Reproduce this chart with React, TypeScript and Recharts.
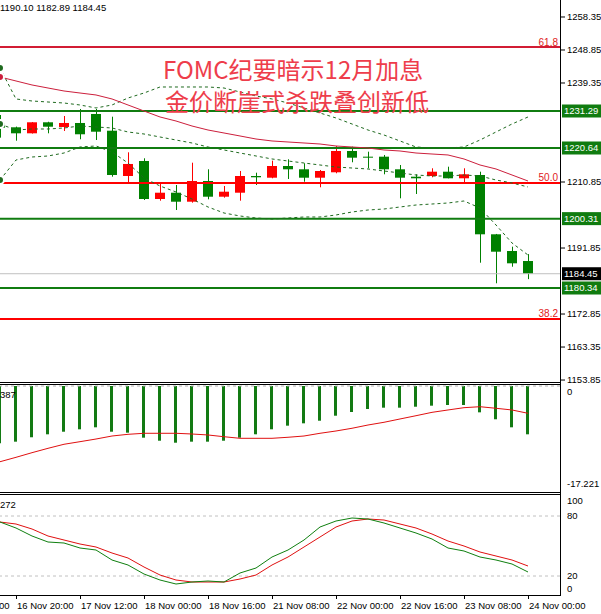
import React from 'react';
import { ComposedChart, Bar, Line, XAxis, YAxis, ReferenceLine } from 'recharts';

const FONT = "'Liberation Sans', Arial, sans-serif";
const CJK = "'Noto Sans CJK SC', sans-serif";
const RED = '#ff0000';
const GREEN = '#008000';
const LEVEL_GREEN = '#107c10';
const BAND = '#1f6a1f';

// one candle every 4 hours, candle i is drawn at x = 16 * i
const opens = [1227.75, 1226.6, 1224.87, 1228.04, 1226.69, 1227.84, 1230.43, 1225.62, 1212.58, 1216.9, 1205.96, 1207.77, 1205.18, 1211.14, 1206.62, 1207.77, 1212.58, 1212.09, 1215.46, 1214.51, 1212.09, 1213.65, 1219.78, 1218.14, 1218.14, 1214.51, 1212.38, 1212.58, 1213.82, 1211.92, 1212.87, 1195.8, 1190.99, 1188.11];
const highs = [1230.14, 1226.8, 1228.1, 1228.2, 1229.85, 1231.87, 1231.87, 1229.65, 1219.4, 1217.68, 1210.48, 1209.99, 1216.41, 1214.51, 1209.7, 1214.02, 1213.53, 1216.99, 1217.39, 1216.24, 1214.31, 1221.22, 1221.02, 1219.58, 1218.63, 1215.75, 1213.07, 1214.8, 1215.26, 1214.8, 1213.82, 1195.9, 1192.23, 1190.1];
const lows = [1223.61, 1222.74, 1224.8, 1224.87, 1225.54, 1223.15, 1222.94, 1212.38, 1210.28, 1205.67, 1205.47, 1202.79, 1204.9, 1205.87, 1206.34, 1205.47, 1209.99, 1211.92, 1211.72, 1210.94, 1209.33, 1213.36, 1216.53, 1214.8, 1213.07, 1206.16, 1207.4, 1212.21, 1211.9, 1210.28, 1187.62, 1181.7, 1186.47, 1182.89];
const closes = [1226.49, 1224.87, 1228.04, 1226.77, 1227.84, 1224.59, 1225.33, 1212.87, 1216.04, 1205.96, 1207.77, 1205.18, 1211.14, 1206.62, 1208.06, 1212.58, 1212.21, 1215.46, 1214.51, 1212.09, 1214.02, 1219.78, 1217.85, 1217.85, 1214.51, 1212.09, 1211.92, 1213.82, 1211.92, 1213.07, 1195.8, 1190.79, 1187.45, 1184.45];

const maLine = [1241.08, 1239.93, 1238.78, 1237.91, 1237.05, 1236.47, 1235.9, 1234.75, 1233.02, 1231.29, 1229.57, 1228.41, 1226.97, 1225.82, 1224.96, 1224.1, 1223.23, 1222.66, 1222.37, 1222.08, 1221.79, 1221.22, 1220.93, 1220.64, 1220.07, 1219.78, 1219.2, 1218.91, 1218.63, 1217.48, 1215.75, 1214.6, 1212.87, 1211.14];
const bandUpper = [1243.67, 1234.75, 1234.17, 1233.88, 1233.59, 1233.02, 1232.16, 1233.02, 1235.03, 1236.47, 1238.2, 1238.2, 1238.2, 1238.2, 1237.91, 1236.76, 1235.61, 1234.75, 1233.59, 1232.16, 1230.72, 1229.28, 1227.55, 1225.82, 1224.38, 1222.66, 1220.93, 1220.64, 1220.64, 1220.93, 1222.94, 1225.25, 1227.55, 1229.57];
const bandMid = [1227.55, 1225.82, 1226.11, 1226.11, 1226.4, 1226.97, 1226.69, 1226.4, 1225.25, 1224.67, 1223.81, 1222.94, 1222.08, 1220.93, 1220.07, 1219.2, 1218.34, 1217.48, 1216.9, 1216.32, 1215.75, 1215.17, 1214.88, 1214.6, 1214.02, 1213.45, 1212.87, 1212.58, 1212.58, 1212.87, 1212.58, 1211.43, 1210.57, 1209.42];
const bandLower = [1211.43, 1217.19, 1218.05, 1218.34, 1219.2, 1220.93, 1221.22, 1219.49, 1216.32, 1212.01, 1209.7, 1207.98, 1205.96, 1203.66, 1201.93, 1201.07, 1200.49, 1200.2, 1200.49, 1200.78, 1200.78, 1201.36, 1202.22, 1202.79, 1203.08, 1203.66, 1204.23, 1204.52, 1204.81, 1205.39, 1203.37, 1198.48, 1193.3, 1189.84];

const macdHist = [-9.49, -9.22, -8.49, -8.0, -7.57, -7.17, -6.84, -7.57, -7.73, -8.56, -9.06, -9.39, -9.22, -9.22, -9.06, -8.56, -8.0, -7.17, -6.57, -6.18, -5.75, -4.92, -4.31, -3.81, -3.59, -3.59, -3.43, -3.26, -3.15, -3.15, -4.36, -5.51, -6.84, -8.0];
const macdSignal = [-12.54, -11.81, -11.04, -10.32, -9.65, -9.22, -8.78, -8.28, -8.0, -7.83, -7.83, -7.83, -7.95, -8.11, -8.4, -8.66, -8.66, -8.66, -8.49, -8.28, -7.83, -7.45, -7.0, -6.46, -6.01, -5.46, -4.92, -4.36, -3.97, -3.59, -3.43, -3.69, -3.97, -4.52];

const stochK = [74, 68, 60, 54, 53, 48, 46, 36, 31, 22, 16, 12, 14, 15, 14, 23, 28, 39, 46, 56, 69, 75, 78, 77, 73, 68, 63, 57, 48, 45, 39, 36, 32, 24];
const stochD = [74, 72, 67, 60, 56, 52, 49, 43, 38, 29, 21, 16, 14, 14, 14, 17, 21, 31, 39, 49, 59, 69, 75, 77, 76, 72, 68, 62, 55, 50, 44, 40, 36, 30];

const priceTicks = [1258.35, 1248.85, 1239.35, 1210.85, 1191.85, 1172.85, 1163.35, 1153.85];
const greenLevels = [1231.29, 1220.64, 1200.31, 1180.34];
const fibLevels = [1249.71, 1210.57, 1171.42];
const fibNames = ['61.8', '50.0', '38.2'];
const lastPrice = 1184.45;
const macdTicks = [-17.221, 0];
const stochTicks = [20, 80, 100];

const timeIdx = [-3, 1, 5, 9, 13, 17, 21, 25, 29, 33];
const timeText = ['16 Nov 04:00', '16 Nov 20:00', '17 Nov 12:00', '18 Nov 00:00', '18 Nov 16:00', '21 Nov 08:00', '22 Nov 00:00', '22 Nov 16:00', '23 Nov 08:00', '24 Nov 00:00'];

const rows = opens.map((o, i) => ({
  i,
  o,
  h: highs[i],
  l: lows[i],
  c: closes[i],
  range: [lows[i], highs[i]],
  ma: maLine[i],
  up: bandUpper[i],
  mid: bandMid[i],
  lo: bandLower[i],
  macd: macdHist[i],
  sig: macdSignal[i],
  k: stochK[i],
  d: stochD[i],
}));

const Candle = (props: any) => {
  const { x, y, width, height, payload } = props;
  const { o, h, l, c } = payload;
  const k = height / (h - l);
  const top = y + (h - Math.max(o, c)) * k;
  const bodyH = Math.max(Math.abs(o - c) * k, 1);
  const color = c > o ? RED : GREEN;
  const cx = Math.round(x + width / 2) + 0.5;
  return (
    <g>
      <line x1={cx} x2={cx} y1={y} y2={y + height} stroke={color} strokeWidth={1} />
      <rect x={Math.round(x)} y={top} width={width} height={bodyH} fill={color} />
    </g>
  );
};

const priceBox = (value: number, bg: string) => (props: any) => {
  const vb = props.viewBox;
  const x = vb.x + vb.width + 2;
  return (
    <g>
      <rect x={x} y={vb.y - 6.5} width={39} height={13} fill={bg} />
      <text x={x + 2} y={vb.y} dy="0.355em" fill="#fff" fontSize={9.5} fontFamily={FONT}>
        {value.toFixed(2)}
      </text>
    </g>
  );
};

const fibTag = (name: string) => (props: any) => {
  const vb = props.viewBox;
  return (
    <text x={vb.x + vb.width - 2} y={vb.y - 1.5} textAnchor="end" fill="#e02020" fontSize={10} fontFamily={FONT}>
      {name}
    </text>
  );
};

// sub-window labels are nudged inside the frame like MT4 does
const sideTick = (shift: Record<string, number>) => (props: any) => {
  const { x, y, payload } = props;
  const label = String(payload.value);
  const dy = shift[label] || 0;
  return (
    <text x={x} y={y + dy} dy="0.355em" fill="#000" fontSize={9.5} fontFamily={FONT}>
      {label}
    </text>
  );
};

const TimeTick = (props: any) => {
  const { x, y, payload } = props;
  const n = timeIdx.indexOf(payload.value);
  return (
    <g>
      <line x1={x + 0.5} x2={x + 0.5} y1={y} y2={y + 3} stroke="#000" />
      <text x={x + 1} y={y + 13} fill="#000" fontSize={9.5} fontFamily={FONT}>
        {timeText[n]}
      </text>
    </g>
  );
};

const hLine = (top: number) => (
  <div style={{ position: 'absolute', left: 0, top, width: 561, height: 1, background: '#000' }} />
);

export default function App() {
  return (
    <div style={{ position: 'absolute', left: 0, top: 0, width: 601, height: 614, background: '#fff', overflow: 'hidden' }}>
      <div style={{ position: 'absolute', left: 0, top: 0 }}>
        <ComposedChart width={601} height={384} data={rows} margin={{ top: 0, right: 0, left: 0, bottom: 0 }}>
          <XAxis dataKey="i" type="number" domain={[0, 35]} hide allowDataOverflow />
          <YAxis
            orientation="right"
            width={41}
            domain={[1152.71, 1263.24]}
            ticks={priceTicks}
            interval={0}
            allowDataOverflow
            axisLine={false}
            tickLine={{ stroke: '#000' }}
            tickSize={5}
            tickMargin={2}
            tick={{ fill: '#000', fontSize: 9.5, fontFamily: FONT }}
            tickFormatter={(v: number) => v.toFixed(2)}
          />
          {fibLevels.map((v, n) => (
            <ReferenceLine key={'f' + v} y={v} stroke={n === 0 ? '#d21c34' : RED} strokeWidth={2} label={fibTag(fibNames[n])} />
          ))}
          {greenLevels.map((v) => (
            <ReferenceLine key={'g' + v} y={v} stroke={LEVEL_GREEN} strokeWidth={2} label={priceBox(v, LEVEL_GREEN)} />
          ))}
          <ReferenceLine y={lastPrice} stroke="#c0c0c0" strokeWidth={1} label={priceBox(lastPrice, '#000')} />
          <Line dataKey="up" stroke={BAND} strokeWidth={1} strokeDasharray="3 3" dot={false} isAnimationActive={false} />
          <Line dataKey="mid" stroke={BAND} strokeWidth={1} strokeDasharray="3 3" dot={false} isAnimationActive={false} />
          <Line dataKey="lo" stroke={BAND} strokeWidth={1} strokeDasharray="3 3" dot={false} isAnimationActive={false} />
          <Line dataKey="ma" stroke="#cc1f3c" strokeWidth={1} dot={false} isAnimationActive={false} />
          <Bar dataKey="range" barSize={10} shape={Candle} isAnimationActive={false} />
        </ComposedChart>
      </div>

      <div style={{ position: 'absolute', left: 0, top: 384 }}>
        <ComposedChart width={601} height={110} data={rows} margin={{ top: 2, right: 0, left: 0, bottom: 4 }}>
          <XAxis dataKey="i" type="number" domain={[0, 35]} hide allowDataOverflow />
          <YAxis
            orientation="right"
            width={41}
            domain={[-17.221, 0]}
            ticks={macdTicks}
            interval={0}
            allowDataOverflow
            axisLine={false}
            tickLine={false}
            tickSize={5}
            tickMargin={2}
            tick={sideTick({ '0': 6, '-17.221': -6 })}
          />
          <ReferenceLine y={0} stroke="#b0b0b0" strokeDasharray="3 3" />
          <Bar dataKey="macd" barSize={3} fill="#137a13" isAnimationActive={false} />
          <Line dataKey="sig" stroke="#e01010" strokeWidth={1} dot={false} isAnimationActive={false} />
        </ComposedChart>
      </div>

      <div style={{ position: 'absolute', left: 0, top: 494 }}>
        <ComposedChart width={601} height={120} data={rows} margin={{ top: 2, right: 0, left: 0, bottom: 0 }}>
          <XAxis
            dataKey="i"
            type="number"
            domain={[0, 35]}
            allowDataOverflow
            ticks={timeIdx}
            interval={0}
            height={18}
            axisLine={false}
            tickLine={false}
            tickSize={0}
            tickMargin={0}
            tick={TimeTick}
          />
          <YAxis
            orientation="right"
            width={41}
            domain={[0, 100]}
            ticks={stochTicks}
            interval={0}
            allowDataOverflow
            axisLine={false}
            tickLine={false}
            tickSize={5}
            tickMargin={2}
            tick={sideTick({ '100': 5 })}
          />
          <ReferenceLine y={80} stroke="#c0c0c0" strokeDasharray="3 3" />
          <ReferenceLine y={20} stroke="#c0c0c0" strokeDasharray="3 3" />
          <Line dataKey="d" stroke="#e01010" strokeWidth={1} dot={false} isAnimationActive={false} />
          <Line dataKey="k" stroke="#0f7f0f" strokeWidth={1} dot={false} isAnimationActive={false} />
        </ComposedChart>
      </div>

      {hLine(382)}
      {hLine(384)}
      {hLine(492)}
      {hLine(494)}
      {hLine(595)}
      <div style={{ position: 'absolute', left: 560, top: 0, width: 1, height: 596, background: '#000' }} />

      <svg width={601} height={614} style={{ position: 'absolute', left: 0, top: 0, pointerEvents: 'none' }}>
        <text x={0} y={11} fill="#000" fontSize={9.5} fontFamily={FONT}>1190.10 1182.89 1184.45</text>
        <text x={0} y={398} fill="#000" fontSize={9.5} fontFamily={FONT}>387</text>
        <text x={0} y={508} fill="#000" fontSize={9.5} fontFamily={FONT}>272</text>
        <text x={567} y={592} fill="#000" fontSize={9.5} fontFamily={FONT}>0</text>
        <text x={163} y={68} dominantBaseline="central" fill="#ee3d4b" fontSize={24} fontFamily={CJK}>FOMC纪要暗示12月加息</text>
        <text x={165} y={100} dominantBaseline="central" fill="#ee3d4b" fontSize={24} fontFamily={CJK}>金价断崖式杀跌叠创新低</text>
      </svg>
    </div>
  );
}
